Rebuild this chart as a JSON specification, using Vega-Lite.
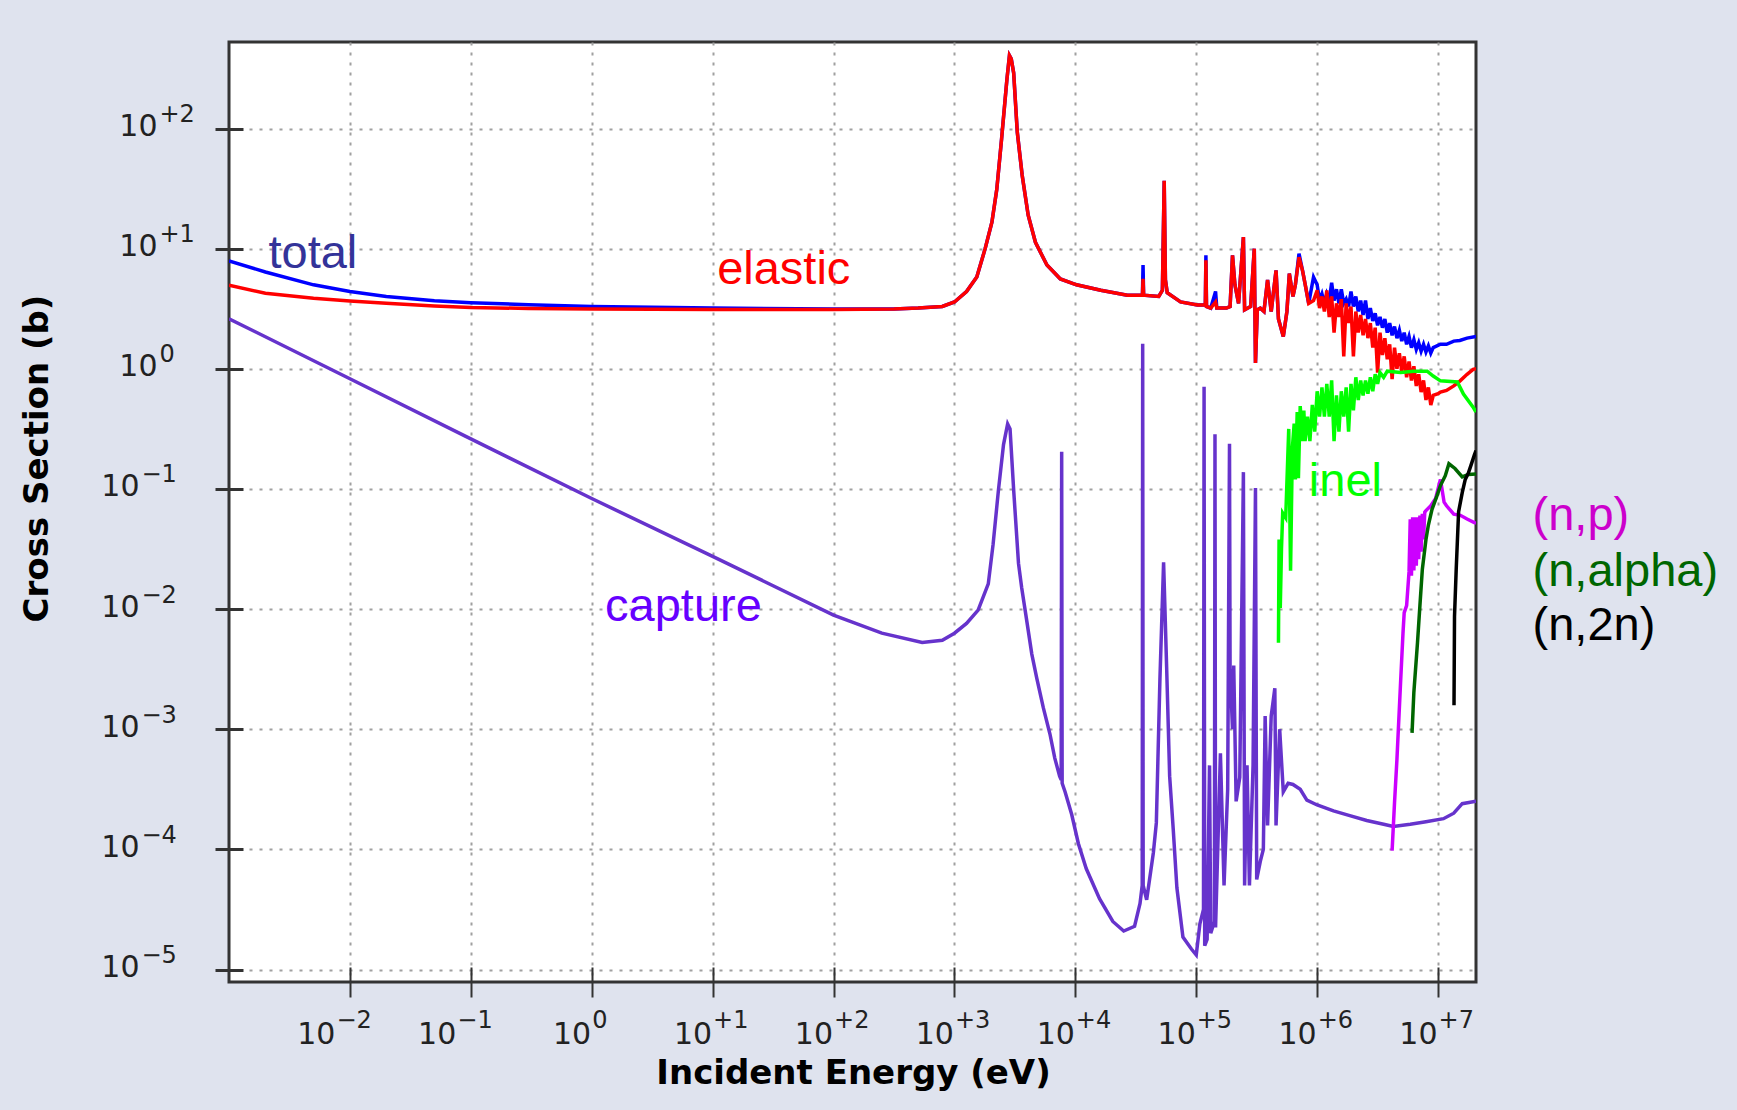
{
"$schema": "https://vega.github.io/schema/vega-lite/v6.json",
"width": 1247, "height": 940,
"autosize": {"type": "none"},
"padding": {"left": 229, "top": 42, "right": 261, "bottom": 128},
"background": "#dfe3ee",
"config": {"view": {"stroke": "#333333", "strokeWidth": 3, "fill": "#ffffff"}},
"datasets": {
"total": [
{"e":0.001,"xs":7.9},{"e":0.002,"xs":6.4},{"e":0.005,"xs":5.0},{"e":0.01,"xs":4.4},{"e":0.02,"xs":4.0},{"e":0.05,"xs":3.68},{"e":0.1,"xs":3.55},{"e":0.3,"xs":3.42},{"e":1,"xs":3.3},{"e":10,"xs":3.2},{"e":100,"xs":3.15},{"e":316,"xs":3.15},{"e":501,"xs":3.2},{"e":794,"xs":3.3},{"e":1000,"xs":3.6},{"e":1259,"xs":4.4},{"e":1531,"xs":5.8},{"e":1795,"xs":10},{"e":2042,"xs":16.6},{"e":2239,"xs":31},{"e":2455,"xs":82},{"e":2716,"xs":255},{"e":2851,"xs":405},{"e":2951,"xs":380},{"e":3090,"xs":290},{"e":3311,"xs":93},{"e":3631,"xs":41},{"e":4074,"xs":19},{"e":4677,"xs":11.3},{"e":5821,"xs":7.3},{"e":7516,"xs":5.6},{"e":10230,"xs":5.0},{"e":16220,"xs":4.5},{"e":26920,"xs":4.1},{"e":35890,"xs":4.1},{"e":36310,"xs":7.3},{"e":36730,"xs":4.1},{"e":48980,"xs":4.0},{"e":52480,"xs":4.5},{"e":54330,"xs":36.8},{"e":55590,"xs":5.5},{"e":57540,"xs":4.3},{"e":74130,"xs":3.6},{"e":102300,"xs":3.4},{"e":118900,"xs":3.4},{"e":120200,"xs":8.8},{"e":121600,"xs":3.3},{"e":131800,"xs":3.2},{"e":144500,"xs":4.4},{"e":147900,"xs":3.2},{"e":177800,"xs":3.2},{"e":190500,"xs":3.3},{"e":199500,"xs":8.8},{"e":208900,"xs":5.0},{"e":223900,"xs":3.5},{"e":245500,"xs":12.5},{"e":251200,"xs":3.1},{"e":281800,"xs":3.3},{"e":302000,"xs":10},{"e":309000,"xs":1.12},{"e":319900,"xs":3.1},{"e":338800,"xs":3.2},{"e":363100,"xs":3.0},{"e":389000,"xs":5.5},{"e":416900,"xs":3.0},{"e":457100,"xs":6.6},{"e":478600,"xs":2.6},{"e":524800,"xs":1.86},{"e":562300,"xs":3.0},{"e":588800,"xs":6.2},{"e":631000,"xs":4.0},{"e":660700,"xs":5.0},{"e":707900,"xs":9.1},{"e":758600,"xs":6.5},{"e":794300,"xs":5.1},{"e":851100,"xs":3.5},{"e":933300,"xs":5.8},
{"e":1000000,"xs":5.0},{"e":1047000,"xs":3.7},{"e":1096000,"xs":4.2},{"e":1148000,"xs":3.5},{"e":1202000,"xs":4.2},{"e":1259000,"xs":3.7},{"e":1318000,"xs":5.2},{"e":1380000,"xs":3.7},{"e":1445000,"xs":4.6},{"e":1514000,"xs":3.5},{"e":1585000,"xs":4.6},{"e":1660000,"xs":3.5},{"e":1738000,"xs":3.8},{"e":1820000,"xs":3.3},{"e":1905000,"xs":4.4},{"e":1995000,"xs":3.3},{"e":2089000,"xs":4.0},{"e":2188000,"xs":3.0},{"e":2291000,"xs":3.7},{"e":2399000,"xs":2.8},{"e":2512000,"xs":3.7},{"e":2630000,"xs":2.6},{"e":2754000,"xs":3.2},{"e":2884000,"xs":2.5},{"e":3020000,"xs":2.9},{"e":3162000,"xs":2.3},{"e":3311000,"xs":2.7},{"e":3467000,"xs":2.2},{"e":3631000,"xs":2.6},{"e":3802000,"xs":2.0},{"e":3981000,"xs":2.4},{"e":4169000,"xs":1.9},{"e":4365000,"xs":2.25},{"e":4571000,"xs":1.8},{"e":4786000,"xs":2.1},{"e":5012000,"xs":1.7},{"e":5248000,"xs":2.0},{"e":5495000,"xs":1.6},{"e":5754000,"xs":1.86},{"e":6026000,"xs":1.5},{"e":6310000,"xs":1.75},{"e":6607000,"xs":1.45},{"e":6918000,"xs":1.65},{"e":7244000,"xs":1.4},{"e":7586000,"xs":1.6},{"e":7943000,"xs":1.38},{"e":8318000,"xs":1.55},{"e":8710000,"xs":1.35},{"e":9120000,"xs":1.5},{"e":10470000,"xs":1.6},{"e":11750000,"xs":1.6},{"e":13490000,"xs":1.7},{"e":15140000,"xs":1.72},{"e":17380000,"xs":1.8},{"e":20600000,"xs":1.86}
],
"elastic": [
{"e":0.001,"xs":4.97},{"e":0.002,"xs":4.25},{"e":0.005,"xs":3.86},{"e":0.01,"xs":3.66},{"e":0.02,"xs":3.51},{"e":0.05,"xs":3.33},{"e":0.1,"xs":3.24},{"e":0.3,"xs":3.18},{"e":1,"xs":3.14},{"e":10,"xs":3.12},{"e":100,"xs":3.12},{"e":316,"xs":3.14},{"e":501,"xs":3.2},{"e":794,"xs":3.3},{"e":1000,"xs":3.6},{"e":1259,"xs":4.4},{"e":1531,"xs":5.8},{"e":1795,"xs":10},{"e":2042,"xs":16.6},{"e":2239,"xs":31},{"e":2455,"xs":82},{"e":2716,"xs":255},{"e":2851,"xs":405},{"e":2951,"xs":380},{"e":3090,"xs":290},{"e":3311,"xs":93},{"e":3631,"xs":41},{"e":4074,"xs":19},{"e":4677,"xs":11.3},{"e":5821,"xs":7.3},{"e":7516,"xs":5.6},{"e":10230,"xs":5.0},{"e":16220,"xs":4.5},{"e":26920,"xs":4.1},{"e":35890,"xs":4.1},{"e":36310,"xs":5.6},{"e":36730,"xs":4.1},{"e":48980,"xs":4.0},{"e":52480,"xs":4.5},{"e":54330,"xs":36.8},{"e":55590,"xs":5.5},{"e":57540,"xs":4.3},{"e":74130,"xs":3.6},{"e":102300,"xs":3.4},{"e":118900,"xs":3.4},{"e":120200,"xs":8.0},{"e":121600,"xs":3.3},{"e":131800,"xs":3.2},{"e":144500,"xs":3.6},{"e":147900,"xs":3.2},{"e":177800,"xs":3.2},{"e":190500,"xs":3.3},{"e":199500,"xs":8.8},{"e":208900,"xs":5.0},{"e":223900,"xs":3.5},{"e":245500,"xs":12.5},{"e":251200,"xs":3.1},{"e":281800,"xs":3.3},{"e":302000,"xs":10},{"e":309000,"xs":1.12},{"e":319900,"xs":3.1},{"e":338800,"xs":3.2},{"e":363100,"xs":3.0},{"e":389000,"xs":5.5},{"e":416900,"xs":3.0},{"e":457100,"xs":6.6},{"e":478600,"xs":2.6},{"e":524800,"xs":1.86},{"e":562300,"xs":3.0},{"e":588800,"xs":6.2},{"e":631000,"xs":4.0},{"e":660700,"xs":5.0},{"e":707900,"xs":8.5},{"e":758600,"xs":6.5},{"e":794300,"xs":5.1},{"e":851100,"xs":3.5},{"e":933300,"xs":3.7},
{"e":1000000,"xs":4.5},{"e":1047000,"xs":3.2},{"e":1096000,"xs":4.0},{"e":1148000,"xs":3.0},{"e":1202000,"xs":4.5},{"e":1259000,"xs":2.7},{"e":1318000,"xs":4.0},{"e":1380000,"xs":2.0},{"e":1445000,"xs":3.5},{"e":1514000,"xs":2.7},{"e":1585000,"xs":3.8},{"e":1660000,"xs":1.27},{"e":1738000,"xs":3.5},{"e":1820000,"xs":2.4},{"e":1905000,"xs":3.3},{"e":1995000,"xs":1.27},{"e":2089000,"xs":3.0},{"e":2188000,"xs":2.0},{"e":2291000,"xs":2.8},{"e":2399000,"xs":1.9},{"e":2512000,"xs":2.6},{"e":2630000,"xs":1.8},{"e":2754000,"xs":2.4},{"e":2884000,"xs":1.5},{"e":3020000,"xs":2.2},{"e":3162000,"xs":0.93},{"e":3311000,"xs":2.0},{"e":3467000,"xs":1.3},{"e":3631000,"xs":1.8},{"e":3802000,"xs":1.2},{"e":3981000,"xs":1.6},{"e":4169000,"xs":0.82},{"e":4365000,"xs":1.5},{"e":4571000,"xs":1.0},{"e":4786000,"xs":1.35},{"e":5012000,"xs":0.95},{"e":5248000,"xs":1.27},{"e":5495000,"xs":0.85},{"e":5754000,"xs":1.15},{"e":6026000,"xs":0.8},{"e":6310000,"xs":1.05},{"e":6607000,"xs":0.72},{"e":6918000,"xs":0.9},{"e":7244000,"xs":0.64},{"e":7586000,"xs":0.8},{"e":7943000,"xs":0.55},{"e":8318000,"xs":0.7},{"e":8710000,"xs":0.5},{"e":9120000,"xs":0.6},{"e":10000000,"xs":0.62},{"e":10470000,"xs":0.64},{"e":11750000,"xs":0.66},{"e":13490000,"xs":0.72},{"e":15140000,"xs":0.79},{"e":17380000,"xs":0.9},{"e":19500000,"xs":0.99},{"e":20600000,"xs":1.0}
],
"capture": [
{"e":0.001,"xs":2.61},{"e":0.01,"xs":0.826},{"e":0.1,"xs":0.261},{"e":1,"xs":0.0832},{"e":10,"xs":0.0275},{"e":100,"xs":0.0089},{"e":251,"xs":0.00631},{"e":541,"xs":0.00527},{"e":794,"xs":0.0055},{"e":1000,"xs":0.0063},{"e":1259,"xs":0.0076},{"e":1570,"xs":0.0098},{"e":1905,"xs":0.0162},{"e":2089,"xs":0.0347},{"e":2312,"xs":0.0977},{"e":2547,"xs":0.234},{"e":2754,"xs":0.348},{"e":2884,"xs":0.316},{"e":3090,"xs":0.0977},{"e":3388,"xs":0.024},{"e":3597,"xs":0.0151},{"e":3954,"xs":0.00813},{"e":4365,"xs":0.00422},{"e":4786,"xs":0.00269},{"e":5433,"xs":0.00151},{"e":6166,"xs":0.000912},{"e":6761,"xs":0.000575},{"e":7413,"xs":0.000407},{"e":7638,"xs":0.00038},{"e":7709,"xs":0.204},{"e":7780,"xs":0.000355},{"e":8222,"xs":0.000302},{"e":9333,"xs":0.000195},{"e":10590,"xs":0.000112},{"e":12300,"xs":0.0000692},{"e":15850,"xs":0.0000389},{"e":20420,"xs":0.0000251},{"e":25120,"xs":0.0000209},{"e":30900,"xs":0.0000229},{"e":34280,"xs":0.0000355},{"e":35730,"xs":0.00005},{"e":36060,"xs":1.62},{"e":36390,"xs":0.00005},{"e":38900,"xs":0.000038},{"e":44160,"xs":0.0000933},{"e":46770,"xs":0.000166},{"e":50120,"xs":0.00269},{"e":53700,"xs":0.0245},{"e":56890,"xs":0.00331},{"e":60260,"xs":0.000407},{"e":64570,"xs":0.000145},{"e":69180,"xs":0.0000479},{"e":77620,"xs":0.0000186},{"e":91200,"xs":0.0000148},{"e":100000,"xs":0.0000132},{"e":107200,"xs":0.000024},{"e":114800,"xs":0.0000316},{"e":116100,"xs":0.708},{"e":117500,"xs":0.0000158},{"e":123000,"xs":0.0000178},{"e":128800,"xs":0.0005},{"e":131800,"xs":0.00002},{"e":141300,"xs":0.0000251},{"e":142900,"xs":0.285},{"e":144500,"xs":0.0000224},{"e":158500,"xs":0.00063},{"e":169800,"xs":0.00005},{"e":182000,"xs":0.000316},{"e":188400,"xs":0.238},{"e":190500,"xs":0.00316},{"e":199500,"xs":0.001},{"e":204200,"xs":0.00339},{"e":213800,"xs":0.000251},{"e":229100,"xs":0.000398},{"e":245500,"xs":0.138},{"e":251200,"xs":0.00005},{"e":263000,"xs":0.0005},{"e":275400,"xs":0.00005},{"e":295100,"xs":0.0005},{"e":309000,"xs":0.102},{"e":316200,"xs":0.0000562},{"e":338800,"xs":0.0000794},{"e":358900,"xs":0.0001},{"e":371500,"xs":0.00129},{"e":389000,"xs":0.000158},{"e":416900,"xs":0.00129},{"e":446700,"xs":0.00219},{"e":457100,"xs":0.000158},{"e":489800,"xs":0.001},{"e":524800,"xs":0.000302},{"e":575400,"xs":0.000355},{"e":631000,"xs":0.000347},{"e":724400,"xs":0.000316},{"e":822200,"xs":0.000257},{"e":1000000,"xs":0.000234},{"e":1365000,"xs":0.000209},{"e":1862000,"xs":0.000191},{"e":2570000,"xs":0.000174},{"e":3548000,"xs":0.000162},{"e":4266000,"xs":0.000155},{"e":5888000,"xs":0.000162},{"e":7943000,"xs":0.00017},{"e":11090000,"xs":0.00018},{"e":13490000,"xs":0.0002},{"e":15850000,"xs":0.00024},{"e":20600000,"xs":0.000251}
],
"inel": [
{"e":478600,"xs":0.00525},{"e":484200,"xs":0.038},{"e":495500,"xs":0.0102},{"e":507000,"xs":0.0316},{"e":518800,"xs":0.0631},{"e":549500,"xs":0.0575},{"e":582100,"xs":0.316},{"e":602600,"xs":0.0209},{"e":623700,"xs":0.219},{"e":645700,"xs":0.35},{"e":660700,"xs":0.12},{"e":683900,"xs":0.437},{"e":699800,"xs":0.123},{"e":724400,"xs":0.49},{"e":758600,"xs":0.25},{"e":776200,"xs":0.45},{"e":794300,"xs":0.25},{"e":831800,"xs":0.4},{"e":871000,"xs":0.25},{"e":912000,"xs":0.5},{"e":955000,"xs":0.3},{"e":1000000,"xs":0.65},{"e":1047000,"xs":0.4},{"e":1096000,"xs":0.7},{"e":1148000,"xs":0.4},{"e":1202000,"xs":0.75},{"e":1259000,"xs":0.4},{"e":1318000,"xs":0.8},{"e":1380000,"xs":0.25},{"e":1445000,"xs":0.6},{"e":1514000,"xs":0.3},{"e":1585000,"xs":0.65},{"e":1660000,"xs":0.4},{"e":1738000,"xs":0.7},{"e":1820000,"xs":0.3},{"e":1905000,"xs":0.75},{"e":1995000,"xs":0.45},{"e":2089000,"xs":0.85},{"e":2188000,"xs":0.55},{"e":2291000,"xs":0.8},{"e":2399000,"xs":0.6},{"e":2512000,"xs":0.8},{"e":2630000,"xs":0.62},{"e":2754000,"xs":0.85},{"e":2884000,"xs":0.65},{"e":3020000,"xs":0.9},{"e":3162000,"xs":0.75},{"e":3311000,"xs":0.93},{"e":3548000,"xs":0.85},{"e":3802000,"xs":0.955},{"e":4898000,"xs":0.933},{"e":6310000,"xs":0.955},{"e":8128000,"xs":0.955},{"e":9120000,"xs":0.871},{"e":10470000,"xs":0.794},{"e":14450000,"xs":0.776},{"e":16220000,"xs":0.617},{"e":19500000,"xs":0.479},{"e":20600000,"xs":0.437}
],
"np": [
{"e":4169000,"xs":0.0000977},{"e":4365000,"xs":0.000245},{"e":4571000,"xs":0.000562},{"e":4898000,"xs":0.00245},{"e":5129000,"xs":0.00631},{"e":5248000,"xs":0.00933},{"e":5495000,"xs":0.0107},{"e":5754000,"xs":0.0204},{"e":5888000,"xs":0.056},{"e":6026000,"xs":0.019},{"e":6166000,"xs":0.058},{"e":6310000,"xs":0.021},{"e":6457000,"xs":0.058},{"e":6607000,"xs":0.023},{"e":6761000,"xs":0.058},{"e":6918000,"xs":0.026},{"e":7079000,"xs":0.06},{"e":7244000,"xs":0.03},{"e":7413000,"xs":0.062},{"e":7586000,"xs":0.038},{"e":7762000,"xs":0.064},{"e":7943000,"xs":0.066},{"e":8710000,"xs":0.0724},{"e":9550000,"xs":0.0832},{"e":10470000,"xs":0.12},{"e":11220000,"xs":0.0776},{"e":11750000,"xs":0.0724},{"e":13490000,"xs":0.0617},{"e":15310000,"xs":0.0603},{"e":17380000,"xs":0.0562},{"e":19950000,"xs":0.0525},{"e":20600000,"xs":0.052}
],
"nalpha": [
{"e":6095000,"xs":0.000933},{"e":6310000,"xs":0.00204},{"e":6761000,"xs":0.00525},{"e":7079000,"xs":0.0107},{"e":7413000,"xs":0.0214},{"e":7943000,"xs":0.038},{"e":8318000,"xs":0.0501},{"e":8913000,"xs":0.0676},{"e":9772000,"xs":0.0871},{"e":10470000,"xs":0.107},{"e":11480000,"xs":0.129},{"e":12300000,"xs":0.162},{"e":13800000,"xs":0.148},{"e":15850000,"xs":0.126},{"e":17780000,"xs":0.132},{"e":20600000,"xs":0.133}
],
"n2n": [
{"e":13550000,"xs":0.00158},{"e":13680000,"xs":0.0087},{"e":14130000,"xs":0.0214},{"e":14790000,"xs":0.0646},{"e":15850000,"xs":0.0933},{"e":16790000,"xs":0.12},{"e":17780000,"xs":0.135},{"e":18620000,"xs":0.155},{"e":19950000,"xs":0.191},{"e":20600000,"xs":0.209}
],
"notes": [
{"label":"total","e":0.00212,"xs":6.85},
{"label":"elastic","e":10.9,"xs":5.05},
{"label":"capture","e":1.29,"xs":0.00798},
{"label":"inel","e":853000,"xs":0.0871},
{"label":"(n,p)","e":60500000,"xs":0.0454},
{"label":"(n,alpha)","e":60500000,"xs":0.0155},
{"label":"(n,2n)","e":60500000,"xs":0.0055}
]
},
"layer": [
{"data": {"name": "total"},
 "mark": {"type": "line", "color": "#0000ff", "strokeWidth": 3.5, "clip": true},
 "encoding": {
  "x": {"field": "e", "type": "quantitative", "scale": {"type": "log", "domain": [0.001, 20600000], "nice": false},
   "axis": {"orient": "bottom", "offset": -15, "values": [0.01,0.1,1,10,100,1000,10000,100000,1000000,10000000], "domain": false, "tickSize": 30, "tickWidth": 2, "tickColor": "#333333", "grid": true, "gridColor": "#a0a0a0", "gridDash": [3,7], "gridWidth": 2, "labelExpr": "'10'", "labelAlign": "right", "labelBaseline": "alphabetic", "labelPadding": 46, "labelOffset": {"condition": {"test": "datum.value < 0.5", "value": -15}, "value": -1}, "labelFont": "DejaVu Sans", "labelFontSize": 30, "labelColor": "#222222", "labelFlush": false, "labelOverlap": false, "title": "Incident Energy (eV)", "titleFont": "DejaVu Sans", "titleFontSize": 34, "titleFontWeight": "bold", "titleColor": "#000000", "titleX": 624, "titleY": 116, "titleAlign": "center", "titleBaseline": "alphabetic"}},
  "y": {"field": "xs", "type": "quantitative", "scale": {"type": "log", "domain": [0.00000787, 525], "nice": false},
   "axis": {"orient": "left", "offset": -14, "values": [0.00001,0.0001,0.001,0.01,0.1,1,10,100], "domain": false, "tickSize": 28, "tickWidth": 3, "tickColor": "#333333", "grid": true, "gridColor": "#a0a0a0", "gridDash": [3,7], "gridWidth": 2, "labelExpr": "'10'", "labelAlign": "right", "labelBaseline": "alphabetic", "labelOffset": 7, "labelPadding": {"condition": {"test": "datum.value < 0.5", "value": 76}, "value": 58}, "labelFont": "DejaVu Sans", "labelFontSize": 30, "labelColor": "#222222", "labelFlush": false, "labelOverlap": false, "title": "Cross Section (b)", "titleFont": "DejaVu Sans", "titleFontSize": 34, "titleFontWeight": "bold", "titleColor": "#000000", "titleX": -196, "titleY": 416, "titleAngle": 270, "titleAlign": "center", "titleBaseline": "alphabetic"}}
 }},
{"data": {"name": "elastic"},
 "mark": {"type": "line", "color": "#ff0000", "strokeWidth": 3.5, "clip": true},
 "encoding": {
  "x": {"field": "e", "type": "quantitative", "scale": {"type": "log", "domain": [0.001, 20600000], "nice": false}, "axis": null},
  "y": {"field": "xs", "type": "quantitative", "scale": {"type": "log", "domain": [0.00000787, 525], "nice": false}, "axis": null}
 }},
{"data": {"name": "capture"},
 "mark": {"type": "line", "color": "#6633cc", "strokeWidth": 3.5, "clip": true},
 "encoding": {
  "x": {"field": "e", "type": "quantitative", "scale": {"type": "log", "domain": [0.001, 20600000], "nice": false}, "axis": null},
  "y": {"field": "xs", "type": "quantitative", "scale": {"type": "log", "domain": [0.00000787, 525], "nice": false}, "axis": null}
 }},
{"data": {"name": "inel"},
 "mark": {"type": "line", "color": "#00ff00", "strokeWidth": 3.5, "clip": true},
 "encoding": {
  "x": {"field": "e", "type": "quantitative", "scale": {"type": "log", "domain": [0.001, 20600000], "nice": false}, "axis": null},
  "y": {"field": "xs", "type": "quantitative", "scale": {"type": "log", "domain": [0.00000787, 525], "nice": false}, "axis": null}
 }},
{"data": {"name": "np"},
 "mark": {"type": "line", "color": "#cc00ff", "strokeWidth": 3.5, "clip": true},
 "encoding": {
  "x": {"field": "e", "type": "quantitative", "scale": {"type": "log", "domain": [0.001, 20600000], "nice": false}, "axis": null},
  "y": {"field": "xs", "type": "quantitative", "scale": {"type": "log", "domain": [0.00000787, 525], "nice": false}, "axis": null}
 }},
{"data": {"name": "nalpha"},
 "mark": {"type": "line", "color": "#006600", "strokeWidth": 3.5, "clip": true},
 "encoding": {
  "x": {"field": "e", "type": "quantitative", "scale": {"type": "log", "domain": [0.001, 20600000], "nice": false}, "axis": null},
  "y": {"field": "xs", "type": "quantitative", "scale": {"type": "log", "domain": [0.00000787, 525], "nice": false}, "axis": null}
 }},
{"data": {"name": "n2n"},
 "mark": {"type": "line", "color": "#000000", "strokeWidth": 3.5, "clip": true},
 "encoding": {
  "x": {"field": "e", "type": "quantitative", "scale": {"type": "log", "domain": [0.001, 20600000], "nice": false}, "axis": null},
  "y": {"field": "xs", "type": "quantitative", "scale": {"type": "log", "domain": [0.00000787, 525], "nice": false}, "axis": null}
 }},
{"data": {"name": "notes"},
 "mark": {"type": "text", "font": "Liberation Sans", "fontSize": 47, "align": "left", "baseline": "alphabetic"},
 "encoding": {
  "x": {"field": "e", "type": "quantitative", "scale": {"type": "log", "domain": [0.001, 20600000], "nice": false},
   "axis": {"orient": "bottom", "offset": -15, "values": [0.01,0.1,1,10,100,1000,10000,100000,1000000,10000000], "domain": false, "tickSize": 30, "tickOpacity": 0, "grid": false, "labelExpr": "datum.value > 1.5 ? '+' + format(log(datum.value)/LN10, '.0f') : (datum.value < 0.5 ? '−' + format(-log(datum.value)/LN10, '.0f') : '0')", "labelAlign": "left", "labelBaseline": "alphabetic", "labelPadding": 30, "labelOffset": {"condition": {"test": "datum.value < 0.5", "value": -14}, "value": 0}, "labelFont": "DejaVu Sans", "labelFontSize": 24, "labelColor": "#222222", "labelFlush": false, "labelOverlap": false, "title": null}},
  "y": {"field": "xs", "type": "quantitative", "scale": {"type": "log", "domain": [0.00000787, 525], "nice": false},
   "axis": {"orient": "left", "offset": -14, "values": [0.00001,0.0001,0.001,0.01,0.1,1,10,100], "domain": false, "tickSize": 28, "tickOpacity": 0, "grid": false, "labelExpr": "datum.value > 1.5 ? '+' + format(log(datum.value)/LN10, '.0f') : (datum.value < 0.5 ? '−' + format(-log(datum.value)/LN10, '.0f') : '0')", "labelAlign": "left", "labelBaseline": "alphabetic", "labelOffset": -7, "labelPadding": {"condition": {"test": "datum.value < 0.5", "value": 74}, "value": 56}, "labelFont": "DejaVu Sans", "labelFontSize": 24, "labelColor": "#222222", "labelFlush": false, "labelOverlap": false, "title": null}},
  "text": {"field": "label", "type": "nominal"},
  "color": {"field": "label", "type": "nominal", "legend": null,
   "scale": {"domain": ["total","elastic","capture","inel","(n,p)","(n,alpha)","(n,2n)"], "range": ["#333399","#ff0000","#6600ff","#00ff00","#cc00cc","#006600","#000000"]}}
 }}
],
"resolve": {"axis": {"x": "independent", "y": "independent"}}
}
